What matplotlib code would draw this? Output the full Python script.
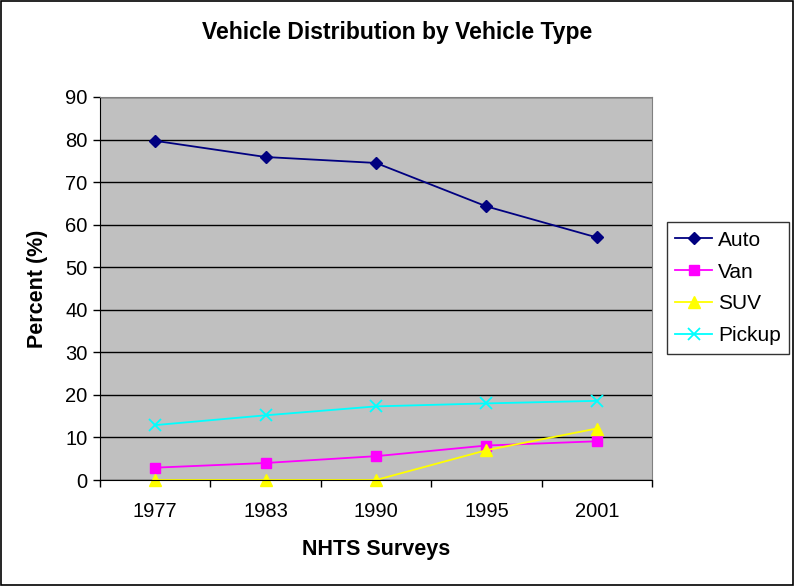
import matplotlib
matplotlib.use("Agg")
import matplotlib.pyplot as plt
from matplotlib.patches import Rectangle

years = ["1977", "1983", "1990", "1995", "2001"]
auto = [79.7, 75.9, 74.5, 64.3, 57.0]
van = [2.9, 4.0, 5.6, 8.1, 9.1]
suv = [0.0, 0.0, 0.0, 7.0, 12.1]
pickup = [12.9, 15.2, 17.3, 18.0, 18.6]
yticks = list(range(0, 91, 10))

plt.rcParams['font.family'] = ['Liberation Sans', 'DejaVu Sans']

fig = plt.figure(figsize=(7.94, 5.86), dpi=100)
fig.patches.append(Rectangle((0.001, 0.001), 0.998, 0.997, transform=fig.transFigure,
                             fill=False, edgecolor='black', linewidth=1.2))
ax = fig.add_axes([100/794, 106/586, 552/794, 383/586])
ax.set_facecolor('#C0C0C0')

x = list(range(len(years)))
ax.plot(x, auto, color='#000080', marker='D', markersize=6, linewidth=1.3, label='Auto')
ax.plot(x, van, color='#FF00FF', marker='s', markersize=7, linewidth=1.3, label='Van')
ax.plot(x, suv, color='#FFFF00', marker='^', markersize=8, linewidth=1.3, label='SUV', clip_on=False)
ax.plot(x, pickup, color='#00FFFF', marker='x', markersize=8, markeredgewidth=1.3, linewidth=1.3, label='Pickup')

ax.set_xlim(-0.5, len(years) - 0.5)
ax.set_ylim(0, 90)
ax.set_yticks(yticks)
ax.set_yticklabels([str(t) for t in yticks], fontsize=14.5)
ax.set_xticks(x)
ax.set_xticklabels(years, fontsize=14.5)
ax.tick_params(axis='x', which='major', length=0, pad=16)
ax.set_xticks([i + 0.5 for i in range(-1, len(years))], minor=True)
ax.tick_params(axis='x', which='minor', length=5, direction='out', width=1)
ax.tick_params(axis='y', length=5, direction='out', width=1, pad=4)
ax.grid(axis='y', color='black', linewidth=1)
ax.set_axisbelow(True)
for side in ['top', 'right']:
    ax.spines[side].set_color('#808080')
for side in ['left', 'bottom']:
    ax.spines[side].set_color('black')

ax.set_xlabel('NHTS Surveys', fontsize=15.5, fontweight='bold', labelpad=13)
ax.set_ylabel('Percent (%)', fontsize=15.5, fontweight='bold', labelpad=12)
fig.text(0.5, 1 - 33/586, 'Vehicle Distribution by Vehicle Type', fontsize=16.5,
         fontweight='bold', ha='center', va='center')

leg = ax.legend(loc='center left', bbox_to_anchor=(667/794, 1 - 288/586), bbox_transform=fig.transFigure,
                fontsize=15, frameon=True, fancybox=False, edgecolor='#333333', framealpha=1,
                handlelength=1.75, borderpad=0.4, labelspacing=0.62, handletextpad=0.3,
                borderaxespad=0)
leg.get_frame().set_linewidth(1)

fig.savefig('out.png', dpi=100)
